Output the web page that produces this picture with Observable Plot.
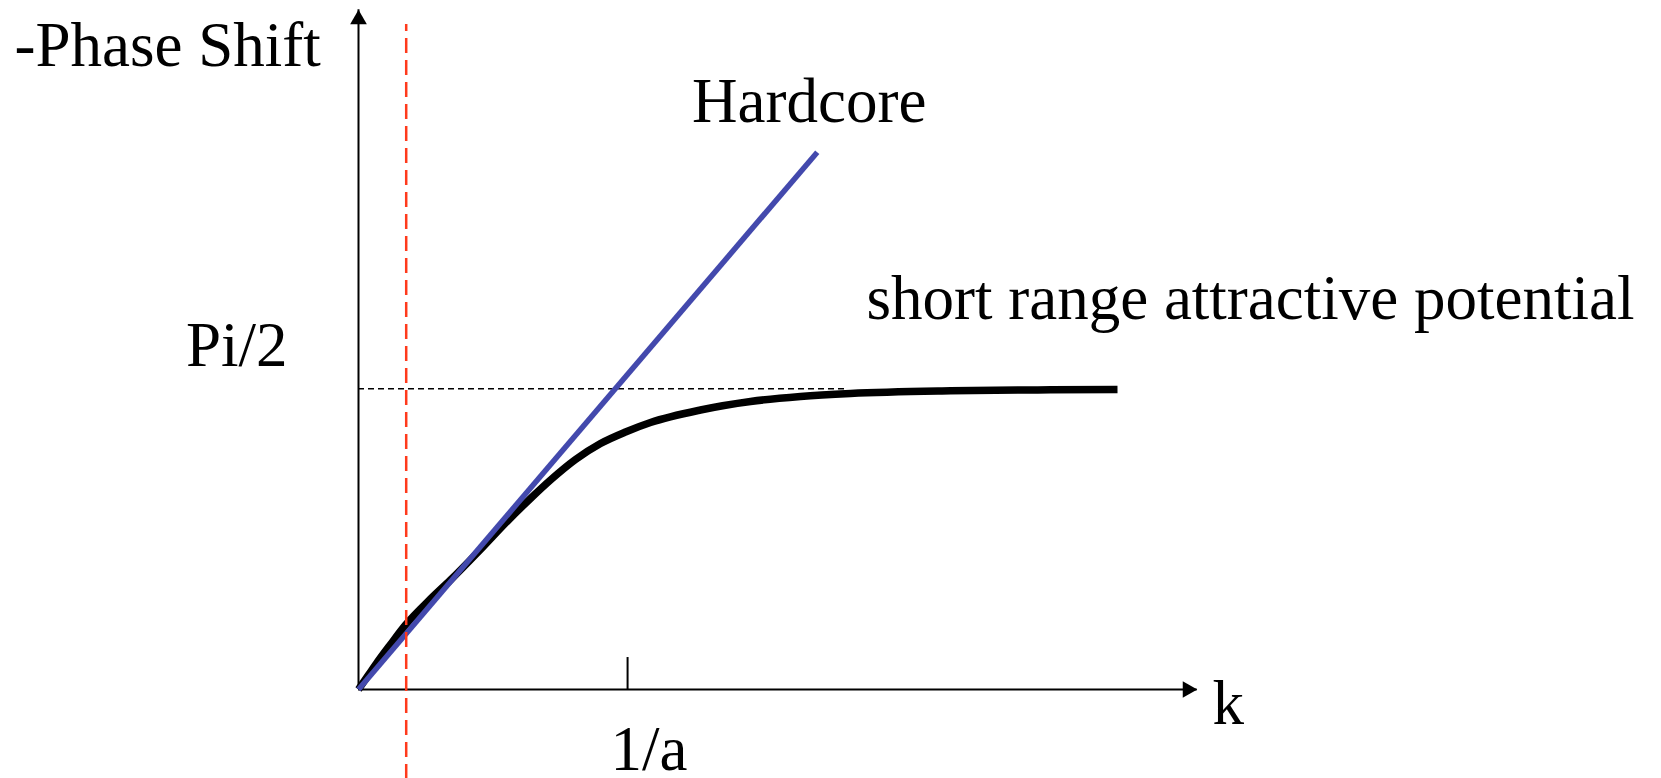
<!DOCTYPE html>
<html>
<head>
<meta charset="utf-8">
<script src="https://cdn.jsdelivr.net/npm/d3@7"></script>
<script src="https://cdn.jsdelivr.net/npm/@observablehq/plot@0.6"></script>
<style>
  html, body { margin: 0; padding: 0; background: #fff; }
  #chart svg { display: block; }
  #chart text { font-family: "Liberation Serif", "Times New Roman", serif; }
</style>
</head>
<body>
<div id="chart"></div>
<script>
// Phase shift vs wave number k (units where 1/a = 1, phase in radians)

// short range attractive potential: -δ(k) saturating at π/2
const attractiveK     = [0, 0.0372, 0.0706, 0.1189, 0.1747, 0.2676, 0.3419, 0.4534, 0.5538, 0.6392, 0.7136, 0.8065, 0.8994, 0.9923, 1.0852, 1.2710, 1.4569, 1.6427, 1.8285, 2.2002, 2.5718, 2.8208];
const attractivePhase = [0, 0.0758, 0.1437, 0.2351, 0.3370, 0.4728, 0.5721, 0.7314, 0.8803, 0.9979, 1.0945, 1.2016, 1.2852, 1.3453, 1.3949, 1.4602, 1.5046, 1.5307, 1.5464, 1.5605, 1.5657, 1.5673];

// hardcore: -δ(k) = k·a (straight line)
const hardcoreK     = [0, 1.705];
const hardcorePhase = [0, 2.807];

// reference values
const halfPi = Math.PI / 2;
const kInvA = 1;            // position of the 1/a tick
const kCutoff = 0.1773;     // red dashed marker
const piLineEnd = 1.82;     // extent of the π/2 guide
const kMax = 3.117;         // end of k axis
const phaseMax = 3.551;     // end of phase axis

// labels
const yAxisLabel = "-Phase Shift";
const xAxisLabel = "k";
const yTickLabel = "Pi/2";
const xTickLabel = "1/a";
const hardcoreLabel = "Hardcore";
const attractiveLabel = "short range attractive potential";

const attractive = attractiveK.map((k, i) => ({k, phase: attractivePhase[i]}));
const hardcore = hardcoreK.map((k, i) => ({k, phase: hardcorePhase[i]}));

const font = "Liberation Serif, Times New Roman, serif";
const fs = 63;
const label = (opts) => ({text: d => d, lineAnchor: "bottom", fontSize: fs, fontFamily: font, fill: "black", ...opts});

const chart = Plot.plot({
  width: 1661,
  height: 778,
  marginLeft: 358,
  marginRight: 464.3,
  marginTop: 9.3,
  marginBottom: 89,
  x: {domain: [0, kMax], axis: null},
  y: {domain: [0, phaseMax], axis: null},
  style: "background: white; overflow: visible; font-family: 'Liberation Serif', 'Times New Roman', serif;",
  marks: [
    // π/2 guide
    Plot.ruleY([halfPi], {x1: 0, x2: piLineEnd, stroke: "black", strokeWidth: 1.5, strokeDasharray: "6,4"}),
    // axes with arrowheads
    Plot.ruleX([0], {y1: 0, y2: phaseMax, stroke: "black", strokeWidth: 2}),
    Plot.ruleY([0], {x1: 0, x2: kMax, stroke: "black", strokeWidth: 2}),
    Plot.dot([{k: 0, phase: phaseMax}], {x: "k", y: "phase", symbol: "triangle", r: 6.2, fill: "black", stroke: "none", dy: 9.6}),
    Plot.dot([{k: kMax, phase: 0}], {x: "k", y: "phase", symbol: "triangle", r: 6.2, fill: "black", stroke: "none", rotate: 90, dx: -9.6}),
    // 1/a tick
    Plot.ruleX([kInvA], {y1: 0, y2: 0.167, stroke: "black", strokeWidth: 2}),
    // curves
    Plot.line(attractive, {x: "k", y: "phase", stroke: "black", strokeWidth: 7.5, curve: "monotone-x", strokeLinecap: "butt"}),
    Plot.line(hardcore, {x: "k", y: "phase", stroke: "#4349ad", strokeWidth: 5.5, strokeLinecap: "butt"}),
    // red marker
    Plot.ruleX([kCutoff], {y1: -0.47, y2: 3.474, stroke: "#ff3a1c", strokeWidth: 2.5, strokeDasharray: "15,7"}),
    // text
    Plot.text([yAxisLabel], label({x: 0, y: phaseMax, textAnchor: "start", dx: -344, dy: 55.7})),
    Plot.text([yTickLabel], label({x: 0, y: halfPi, textAnchor: "end", dx: -71, dy: -23.3})),
    Plot.text([xTickLabel], label({x: kInvA, y: 0, textAnchor: "start", dx: -17, dy: 80})),
    Plot.text([xAxisLabel], label({x: kMax, y: 0, textAnchor: "start", dx: 15.3, dy: 34})),
    Plot.text([hardcoreLabel], label({x: hardcoreK[1], y: hardcorePhase[1], textAnchor: "start", dx: -125.2, dy: -30})),
    Plot.text([attractiveLabel], label({x: attractiveK[attractiveK.length - 1], y: attractivePhase[attractivePhase.length - 1], textAnchor: "start", dx: -251, dy: -71}))
  ]
});

document.getElementById("chart").append(chart);
</script>
</body>
</html>
